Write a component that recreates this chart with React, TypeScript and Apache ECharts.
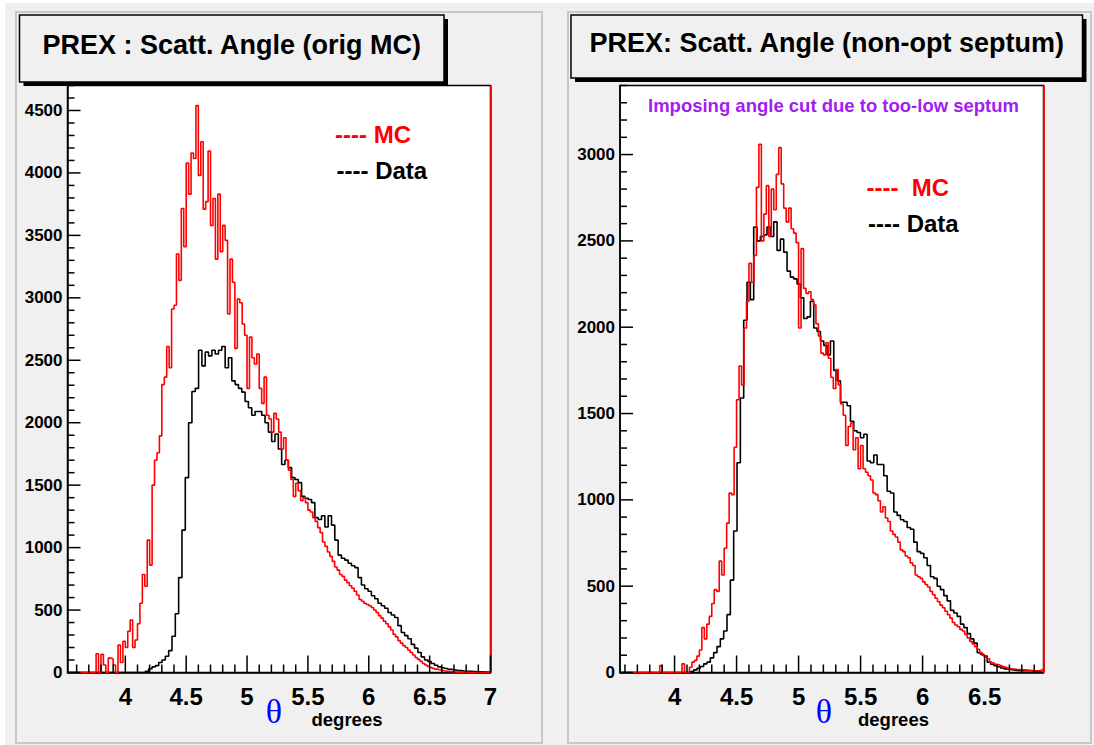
import React, { useEffect, useRef } from "react";
import * as echarts from "echarts";

// ---------- axis ranges / ticks ----------
const leftXRange = [3.525, 7.0];
const rightXRange = [3.56, 6.975];
const leftYMax = 4700;
const rightYMax = 3400;
const xTicksLeft = [4, 4.5, 5, 5.5, 6, 6.5, 7];
const xTicksRight = [4, 4.5, 5, 5.5, 6, 6.5];
const yTicksLeft = [0, 500, 1000, 1500, 2000, 2500, 3000, 3500, 4000, 4500];
const yTicksRight = [0, 500, 1000, 1500, 2000, 2500, 3000];

// ---------- left panel (orig MC) ----------
const dataLeftStart = 4.165;
const dataLeftWidth = 0.0273;
const dataLeft = [
  10, 30, 45, 55, 80, 100, 130, 175, 290, 470, 760, 1140, 1560, 2000, 2250, 2275,
  2580, 2455, 2565, 2535, 2580, 2550, 2580, 2610, 2440, 2520, 2335, 2305, 2275, 2245,
  2170, 2120, 2060, 2090, 2090, 2060, 2000, 1925, 1850, 1910, 1790, 1665, 1700, 1640,
  1560, 1545, 1520, 1410, 1395, 1385, 1360, 1240, 1225, 1255, 1165, 1255, 1180, 1060,
  940, 915, 900, 875, 855, 840, 760, 700, 670, 650, 615, 590, 555, 535, 515, 480,
  460, 440, 375, 320, 295, 270, 225, 195, 160, 125, 100, 88, 72, 58, 45, 38,
  32, 26, 22, 18, 15, 12, 10, 9, 8, 6, 5, 4, 3,
];
const mcLeftStart = 3.74;
const mcLeftWidth = 0.02;
const mcLeft = [
  0, 150, 0, 145, 60, 0, 115, 110, 60, 0, 220, 80, 250, 200, 330, 420,
  200, 260, 390, 555, 785, 690, 1060, 860, 1500, 1700, 1760, 1895, 2305, 2365, 2610, 2440,
  2910, 2940, 3350, 3140, 3715, 3410, 4080, 3830, 4160, 4115, 4540, 3980, 4250, 3710, 3770, 4175,
  3580, 3795, 3310, 3830, 3370, 3580, 3460, 2870, 3310, 3125, 2595, 2990, 2960, 2790, 2700, 2275,
  2685, 2520, 2470, 2550, 2275, 2155, 2365, 2060, 2030, 1925, 2075, 2030, 1925, 1790, 1880, 1700,
  1620, 1545, 1410, 1515, 1455, 1375, 1400, 1360, 1300, 1285, 1240, 1210, 1160, 1120, 1045, 1010,
  965, 930, 890, 845, 820, 785, 770, 740, 720, 695, 675, 650, 620, 585, 570, 555,
  545, 535, 520, 500, 480, 455, 435, 410, 390, 365, 340, 305, 285, 255, 235, 215,
  200, 180, 160, 140, 120, 105, 90, 72, 60, 48, 40, 33, 27, 22, 18, 14,
  11, 9, 7, 5, 4, 3, 3, 2, 2, 1,
];

// ---------- right panel (non-opt septum) ----------
const dataRightStart = 4.127;
const dataRightWidth = 0.0269;
const dataRight = [
  5, 15, 25, 35, 50, 60, 85, 115, 150, 195, 240, 335, 535, 820, 1215, 1590,
  2040, 2260, 2160, 2580, 2500, 2525, 2535, 2580, 2525, 2610, 2445, 2510, 2435, 2325, 2290, 2280,
  2250, 2170, 2050, 2060, 2150, 1995, 1975, 1920, 1895, 1840, 1920, 1750, 1690, 1565, 1565, 1545,
  1455, 1400, 1390, 1360, 1380, 1225, 1215, 1260, 1205, 1205, 1140, 1050, 1040, 930, 910, 885,
  875, 840, 830, 755, 700, 690, 665, 620, 555, 545, 500, 480, 445, 415, 360, 345,
  325, 280, 260, 225, 195, 170, 115, 105, 95, 60, 48, 40, 33, 26, 21, 18,
  15, 12, 11, 10, 11, 12, 8, 5, 3,
];
const mcRightStart = 3.86;
const mcRightWidth = 0.02;
const mcRight = [
  0, 40, 0, 0, 0, 0, 0, 0, 0, 0, 50, 0, 0, 30, 60, 70,
  95, 130, 260, 195, 280, 325, 400, 480, 470, 645, 565, 720, 865, 1040, 1030, 1305,
  1580, 1775, 1665, 1995, 2150, 2370, 2260, 2415, 2810, 3060, 2500, 2655, 2820, 2525, 2800, 2680,
  2885, 3040, 2830, 2690, 2610, 2690, 2570, 2545, 2490, 1995, 2455, 2225, 2195, 2205, 2160, 2130,
  2020, 1950, 1850, 1840, 1910, 1820, 1710, 1645, 1755, 1665, 1555, 1490, 1315, 1425, 1445, 1290,
  1360, 1180, 1315, 1180, 1160, 1140, 1115, 1040, 1030, 995, 930, 960, 895, 875, 820, 800,
  785, 755, 710, 700, 675, 665, 635, 620, 565, 555, 545, 525, 510, 495, 470, 450,
  430, 410, 390, 375, 355, 335, 315, 290, 275, 265, 250, 240, 220, 200, 180, 165,
  150, 135, 115, 100, 90, 80, 60, 55, 48, 45, 40, 35, 30, 25, 22, 20,
  18, 17, 16, 15, 14, 12, 12, 11, 10, 10, 14, 18,
];

const FONT = '"Liberation Sans", Arial, Helvetica, sans-serif';

function histPoints(start: number, width: number, counts: number[], xmin: number, xmax: number) {
  const pts: number[][] = [[xmin, 0], [start, 0]];
  counts.forEach((c, i) => {
    const lo = start + i * width;
    const hi = lo + width;
    pts.push([lo, c], [Math.min(hi, xmax), c]);
  });
  const end = Math.min(start + counts.length * width, xmax);
  pts.push([end, 0], [xmax, 0]);
  return pts;
}

function minorTicks(min: number, max: number, step: number, majors: number[]) {
  const out: number[] = [];
  const n0 = Math.ceil(min / step - 1e-9);
  const n1 = Math.floor(max / step + 1e-9);
  for (let n = n0; n <= n1; n++) {
    const v = +(n * step).toFixed(4);
    if (!majors.some((m) => Math.abs(m - v) < 1e-6)) out.push(v);
  }
  return out;
}

const GRIDS = [
  { left: 67.5, top: 85.5, width: 423, height: 587 },
  { left: 620, top: 85.5, width: 423.5, height: 587 },
];

export default function App() {
  const ref = useRef<HTMLDivElement>(null);
  useEffect(() => {
    if (!ref.current) return;
    const chart = echarts.init(ref.current, undefined, { renderer: "svg" });

    const xr = [leftXRange, rightXRange];
    const ymax = [leftYMax, rightYMax];
    const xMaj = [xTicksLeft, xTicksRight];
    const yMaj = [yTicksLeft, yTicksRight];
    const plain = (v: number) => String(v);

    const xAxis: any[] = [];
    const yAxis: any[] = [];
    [0, 1].forEach((g) => {
      xAxis.push({
        type: "value", gridIndex: g, min: xr[g][0], max: xr[g][1],
        axisLine: { show: true, onZero: false, lineStyle: { color: "#000", width: 1.5 } },
        axisTick: { show: false },
        axisLabel: { show: true, customValues: xMaj[g], formatter: plain, margin: 12, fontFamily: FONT, fontWeight: "bold", fontSize: 24, color: "#000" },
        splitLine: { show: false },
      });
      yAxis.push({
        type: "value", gridIndex: g, min: 0, max: ymax[g], position: "left",
        axisLine: { show: true, onZero: false, lineStyle: { color: "#000", width: 1.5 } },
        axisTick: { show: false },
        axisLabel: { show: true, customValues: yMaj[g], formatter: plain, margin: 5, fontFamily: FONT, fontWeight: "bold", fontSize: 17, color: "#000" },
        splitLine: { show: false },
      });
    });

    const mkSeries = (name: string, g: number, pts: number[][], color: string, z: number, edge?: boolean) => ({
      name, type: "line", xAxisIndex: g, yAxisIndex: g, data: pts,
      showSymbol: false, symbol: "none", clip: true, z,
      lineStyle: { color, width: 1.6 },
      markLine: edge ? {
        silent: true, symbol: "none", label: { show: false },
        lineStyle: { color, width: 1.8, type: "solid" },
        data: [[{ coord: [xr[g][1], 0] }, { coord: [xr[g][1], ymax[g]] }]],
      } : undefined,
    });

    const series = [
      mkSeries("Data", 0, histPoints(dataLeftStart, dataLeftWidth, dataLeft, xr[0][0], xr[0][1]), "#000", 3),
      mkSeries("MC", 0, histPoints(mcLeftStart, mcLeftWidth, mcLeft, xr[0][0], xr[0][1]), "#ff0000", 4, true),
      mkSeries("Data", 1, histPoints(dataRightStart, dataRightWidth, dataRight, xr[1][0], xr[1][1]), "#000", 3),
      mkSeries("MC", 1, histPoints(mcRightStart, mcRightWidth, mcRight, xr[1][0], xr[1][1]), "#ff0000", 4, true),
    ];

    const titleBox = (x: number, y: number, w: number, h: number, text: string) => [
      { type: "rect", shape: { x: x + 4, y: y + 4, width: w, height: h }, style: { fill: "#000" }, z: -5 },
      { type: "rect", shape: { x, y, width: w, height: h }, style: { fill: "#f0f0f0", stroke: "#000", lineWidth: 1.5 }, z: -4 },
      { type: "text", x: x + w / 2, y: y + h / 2 - 4, style: { text, font: `bold 27px ${FONT}`, fill: "#000", align: "center", verticalAlign: "middle" }, z: -3 },
    ];
    const txt = (x: number, y: number, text: string, font: string, fill: string, align = "left") => ({
      type: "text", x, y, z: 10, style: { text, font, fill, align, verticalAlign: "middle" },
    });

    const graphic: any[] = [
      { type: "rect", shape: { x: 5, y: 3, width: 1089, height: 742 }, style: { fill: "#f0f0f0" }, z: -10 },
      { type: "rect", shape: { x: 16, y: 12, width: 526, height: 731 }, style: { fill: "#f0f0f0", stroke: "#c8c8c8", lineWidth: 2 }, z: -9 },
      { type: "rect", shape: { x: 568, y: 12, width: 523, height: 731 }, style: { fill: "#f0f0f0", stroke: "#c8c8c8", lineWidth: 2 }, z: -9 },
      ...titleBox(19.5, 15, 424.5, 67, "PREX : Scatt. Angle (orig MC)"),
      ...titleBox(571, 15, 511.5, 63, "PREX: Scatt. Angle (non-opt septum)"),
      txt(335, 134.5, "---- MC", `bold 24px ${FONT}`, "#ff0000"),
      txt(336.5, 170, "---- Data", `bold 24px ${FONT}`, "#000"),
      txt(866.5, 187, "----  MC", `bold 24px ${FONT}`, "#ff0000"),
      txt(868, 223, "---- Data", `bold 24px ${FONT}`, "#000"),
      txt(648, 105, "Imposing angle cut due to too-low septum", `bold 18.5px ${FONT}`, "#a020f0"),
      txt(274, 711, "θ", `34px "Liberation Serif", "Times New Roman", serif`, "#0000ff", "center"),
      txt(311.5, 719, "degrees", `bold 18.5px ${FONT}`, "#000"),
      txt(824, 711, "θ", `34px "Liberation Serif", "Times New Roman", serif`, "#0000ff", "center"),
      txt(858, 719, "degrees", `bold 18.5px ${FONT}`, "#000"),
    ];

    chart.setOption({
      animation: false,
      backgroundColor: "#fff",
      grid: GRIDS.map((g) => ({ ...g, containLabel: false, show: true, backgroundColor: "#fff", borderColor: "#000", borderWidth: 1.5 })),
      xAxis, yAxis, series, graphic,
    });

    // inside tick marks (ROOT style), placed through the axes' own scales
    const ticks: any[] = [];
    [0, 1].forEach((g) => {
      const toPx = (v: number[]) => chart.convertToPixel({ gridIndex: g }, v) as number[];
      const xTick = (v: number, len: number) => {
        const p = toPx([v, 0]);
        ticks.push({ type: "line", z: 12, shape: { x1: p[0], y1: p[1], x2: p[0], y2: p[1] - len }, style: { stroke: "#000", lineWidth: 1.5 } });
      };
      const yTick = (v: number, len: number) => {
        const p = toPx([xr[g][0], v]);
        ticks.push({ type: "line", z: 12, shape: { x1: p[0], y1: p[1], x2: p[0] + len, y2: p[1] }, style: { stroke: "#000", lineWidth: 1.5 } });
      };
      xMaj[g].forEach((v) => xTick(v, 17));
      minorTicks(xr[g][0], xr[g][1], 0.1, xMaj[g]).forEach((v) => xTick(v, 8));
      yMaj[g].forEach((v) => yTick(v, 13));
      minorTicks(0, ymax[g], 100, yMaj[g]).forEach((v) => yTick(v, 7));
    });
    chart.setOption({ graphic: [...graphic, ...ticks] });

    return () => chart.dispose();
  }, []);

  return <div ref={ref} style={{ position: "absolute", left: 0, top: 0, width: 1094, height: 745 }} />;
}
